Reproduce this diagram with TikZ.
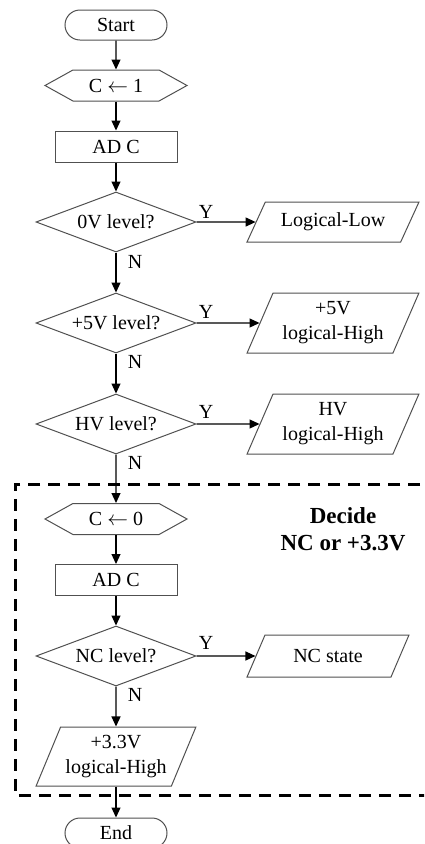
\documentclass[tikz,border=0pt]{standalone}
\usepackage{fontspec}
\setmainfont{Liberation Serif}
\usetikzlibrary{shapes.geometric,shapes.symbols,arrows.meta}
\definecolor{edgegray}{HTML}{505050}

\begin{document}
\begin{tikzpicture}[x=1pt,y=-1pt,
  base/.style={draw=edgegray, line width=1pt, inner sep=0pt, text=black,
    font=\fontsize{20}{25}\selectfont, align=center},
  terminal/.style={base, rectangle, rounded corners=15pt,
    minimum width=102pt, minimum height=30pt},
  prep/.style={base, signal, signal to=west and east, signal pointer angle=58,
    minimum width=142pt, minimum height=31pt},
  process/.style={base, rectangle, minimum width=122pt, minimum height=31pt},
  decision/.style={base, diamond, aspect=2.667, minimum width=160pt, minimum height=60pt},
  io/.style={base, trapezium, trapezium stretches=true},
  lbl/.style={inner sep=0pt, font=\fontsize{20}{24}\selectfont},
  arrow/.style={draw=black, line width=1.2pt, -{Triangle[length=10pt,width=9pt]}},
  dashbox/.style={draw=black, line width=3pt, dash pattern=on 12pt off 8pt}
]
\useasboundingbox (0,0) rectangle (424,844);
\clip (0,0) rectangle (424,844);

% main column
\node[terminal] (start) at (116,25) {Start};
\node[prep] (init1) at (116,85.5) {C $\leftarrow$ 1};
\node[process] (ad1) at (116,146.5) {AD C};
\node[decision] (d0) at (116,222) {0V level?};
\node[decision] (d5) at (116,323) {+5V level?};
\node[decision] (dhv) at (116,424) {HV level?};
\node[prep] (init0) at (116,519) {C $\leftarrow$ 0};
\node[process] (ad2) at (116,580) {AD C};
\node[decision] (dnc) at (116,656) {NC level?};
\node[io, trapezium left angle=62.3, trapezium right angle=117.7,
  minimum width=160pt, minimum height=59pt] (high33) at (116,756.5) {+3.3V\\logical-High};
\node[terminal] (end) at (116,833) {End};

% outputs on the right
\node[io, trapezium left angle=52.2, trapezium right angle=127.8,
  minimum width=172pt, minimum height=40pt] (low) at (333,222) {Logical-Low};
\node[io, trapezium left angle=62.7, trapezium right angle=117.3,
  minimum width=172pt, minimum height=60pt] (high5) at (333,323) {+5V\\logical-High};
\node[io, trapezium left angle=62.7, trapezium right angle=117.3,
  minimum width=172pt, minimum height=60pt] (highhv) at (333,424) {HV\\logical-High};
\node[io, trapezium left angle=53.6, trapezium right angle=126.4,
  minimum width=162pt, minimum height=42pt] (nc) at (328,656) {NC state};

% branch labels
\node[lbl] (y0) at (206,212) {Y};
\node[lbl] (y5) at (206,312) {Y};
\node[lbl] (yhv) at (206,412) {Y};
\node[lbl] (ync) at (206,643) {Y};
\node[lbl] (n0) at (135,262) {N};
\node[lbl] (n5) at (135,362) {N};
\node[lbl] (nhv) at (135,463) {N};
\node[lbl] (nnc) at (135,695) {N};

% connectors
\draw[arrow] (start) -- (init1);
\draw[arrow] (init1) -- (ad1);
\draw[arrow] (ad1) -- (d0);
\draw[arrow] (d0) -- (d5);
\draw[arrow] (d5) -- (dhv);
\draw[arrow] (dhv) -- (init0);
\draw[arrow] (init0) -- (ad2);
\draw[arrow] (ad2) -- (dnc);
\draw[arrow] (dnc) -- (high33);
\draw[arrow] (high33) -- (end);
\draw[arrow] (d0) -- (low);
\draw[arrow] (d5) -- (high5);
\draw[arrow] (dhv) -- (highhv);
\draw[arrow] (dnc) -- (nc);

% dashed region and its caption
\coordinate (boxtr) at (440,484);
\coordinate (boxtl) at (15,484);
\coordinate (boxbl) at (15,795);
\coordinate (boxbr) at (440,795);
\draw[dashbox] (boxtr) -- (boxtl) -- (boxbl) -- (boxbr);
\node[inner sep=0pt, align=center, font=\bfseries\fontsize{23}{27}\selectfont]
  (caption) at (343,529) {Decide\\NC or +3.3V};
\end{tikzpicture}
\end{document}
